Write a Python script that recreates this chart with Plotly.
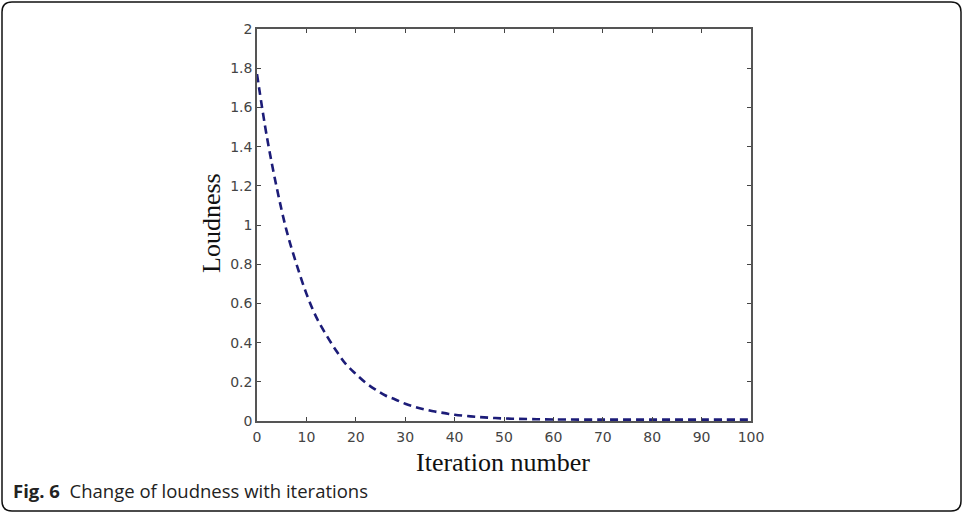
import plotly.graph_objects as go

iterations = [0, 2, 4, 6, 8, 10, 12, 14, 16, 18, 20, 22, 24, 26, 28, 30, 32, 34, 36, 38, 40,
              45, 50, 55, 60, 70, 80, 90, 100]
loudness = [1.77, 1.45, 1.19, 0.97, 0.80, 0.65, 0.53, 0.44, 0.36, 0.29, 0.24, 0.195, 0.16,
            0.13, 0.11, 0.088, 0.072, 0.059, 0.048, 0.040, 0.032, 0.020, 0.013, 0.010,
            0.008, 0.007, 0.007, 0.007, 0.007]
x_ticks = [0, 10, 20, 30, 40, 50, 60, 70, 80, 90, 100]
y_ticks = [0, 0.2, 0.4, 0.6, 0.8, 1, 1.2, 1.4, 1.6, 1.8, 2]
y_tick_text = ["0", "0.2", "0.4", "0.6", "0.8", "1", "1.2", "1.4", "1.6", "1.8", "2"]

W, H = 963, 513
L, R, T, B = 257, 212, 29, 92
PW, PH = W - L - R, H - T - B


def px(x):
    return (x - L) / PW


def py(y):
    return (H - B - y) / PH


fig = go.Figure()
fig.add_trace(go.Scatter(
    x=iterations, y=loudness, mode="lines", line_shape="spline",
    line=dict(color="#1c1c78", width=2.6, dash="8px,5px"),
    showlegend=False, hoverinfo="skip"))

axis_common = dict(
    showline=True, linecolor="#555555", linewidth=1.5, mirror="ticks",
    ticks="inside", ticklen=4, tickcolor="#444444", tickwidth=1.2,
    showgrid=False, zeroline=False,
    tickfont=dict(family="DejaVu Sans, Arial", size=14, color="#444444"))

fig.update_xaxes(range=[0, 100], tickvals=x_ticks, ticklabelstandoff=2, **axis_common)
fig.update_yaxes(range=[0, 2], tickvals=y_ticks, ticktext=y_tick_text, **axis_common)

# rounded border
x0, x1 = px(2), px(961)
y0, y1 = py(511), py(2)
rx, ry = 10 / PW, 10 / PH
path = (f"M {x0+rx},{y1} L {x1-rx},{y1} Q {x1},{y1} {x1},{y1-ry} "
        f"L {x1},{y0+ry} Q {x1},{y0} {x1-rx},{y0} "
        f"L {x0+rx},{y0} Q {x0},{y0} {x0},{y0+ry} "
        f"L {x0},{y1-ry} Q {x0},{y1} {x0+rx},{y1} Z")
fig.add_shape(type="path", path=path, xref="paper", yref="paper",
              line=dict(color="#111111", width=1.5), layer="below")

fig.add_annotation(x=px(503), y=py(462), xref="paper", yref="paper",
                   text="Iteration number", showarrow=False,
                   font=dict(family="Liberation Serif", size=26, color="#111111"),
                   xanchor="center", yanchor="middle")
fig.add_annotation(x=px(211), y=py(223), xref="paper", yref="paper",
                   text="Loudness", showarrow=False, textangle=-90,
                   font=dict(family="Liberation Serif", size=26, color="#111111"),
                   xanchor="center", yanchor="middle")
fig.add_annotation(x=px(11), y=py(490), xref="paper", yref="paper",
                   text="<b>Fig. 6</b>  Change of loudness with iterations", showarrow=False,
                   font=dict(family="Open Sans", size=18.5, color="#222222"),
                   xanchor="left", yanchor="middle")

fig.update_layout(
    width=W, height=H, autosize=False,
    margin=dict(l=L, r=R, t=T, b=B, pad=0),
    paper_bgcolor="white", plot_bgcolor="white")

fig.write_html("out.html")
